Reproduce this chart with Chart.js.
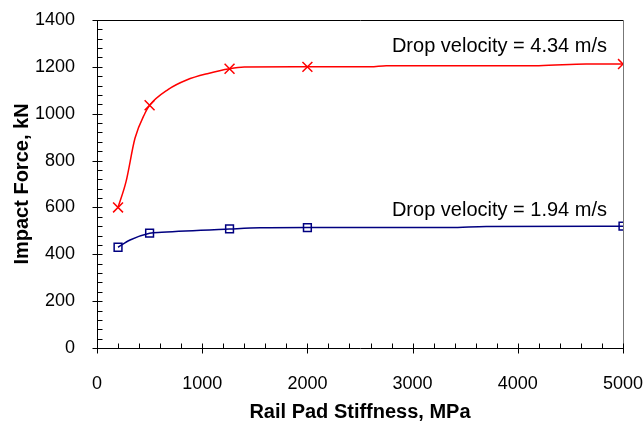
<!DOCTYPE html>
<html>
<head>
<meta charset="utf-8">
<script src="https://cdn.jsdelivr.net/npm/chart.js@4"></script>
<style>
  html, body { margin: 0; padding: 0; background: #fff; }
  #wrap { width: 644px; height: 421px; }
</style>
</head>
<body>
<div id="wrap"><canvas id="myChart" width="644" height="421"></canvas></div>
<script>
// marked points (MPa, kN)
const stiffnessMarks = [200, 500, 1260, 2000, 5000];
const force434Marks = [600, 1036, 1192, 1200, 1212];
const force194Marks = [430, 490, 508, 514, 520];

// the curves through them
const stiffness434Line = [200, 276, 361, 456, 500, 678, 852, 1058, 1260, 1400, 2000, 2600, 2750, 4200, 4650, 5000];
const force434Line = [600, 710, 895, 1002, 1036, 1104, 1144, 1172, 1192, 1199, 1200, 1200, 1205, 1205, 1212, 1212];
const stiffness194Line = [200, 314, 500, 615, 1260, 1550, 2000, 3355, 3700, 5000];
const force194Line = [430, 461, 490, 494, 508, 513, 514, 514, 519, 520];

const xTickValues = [0, 1000, 2000, 3000, 4000, 5000];
const yTickValues = [0, 200, 400, 600, 800, 1000, 1200, 1400];
const xMinorStep = 200;
const yMinorStep = 40;

const labels = [
    {text: 'Drop velocity = 4.34 m/s', x: 4848, y: 1285},
    {text: 'Drop velocity = 1.94 m/s', x: 4848, y: 588}
];

const fontName = '"Liberation Sans", Arial, sans-serif';

function toPoints(xs, ys){
    return xs.map((x, i) => ({x: x, y: ys[i]}));
}

const frameTicks = {
    id: 'frameTicks',
    afterDraw(chart){
        const ctx = chart.ctx;
        const a = chart.chartArea;
        const xs = chart.scales.x;
        const ys = chart.scales.y;
        const L = Math.round(a.left) + 0.5, R = Math.round(a.right) + 0.5;
        const T = Math.round(a.top) + 0.5, B = Math.round(a.bottom) + 0.5;
        ctx.save();
        ctx.lineWidth = 1;
        // top + right
        ctx.strokeStyle = '#000';
        ctx.beginPath();
        ctx.moveTo(L, T); ctx.lineTo(R, T);
        ctx.stroke();
        ctx.strokeStyle = '#777';
        ctx.beginPath();
        ctx.moveTo(R, T); ctx.lineTo(R, B);
        ctx.stroke();
        // axes + ticks
        ctx.strokeStyle = '#000';
        ctx.beginPath();
        ctx.moveTo(L, T); ctx.lineTo(L, B); ctx.lineTo(R, B);
        for (let v = xs.min; v <= xs.max; v += xMinorStep) {
            const px = Math.round(xs.getPixelForValue(v)) + 0.5;
            const major = xTickValues.includes(v);
            ctx.moveTo(px, B - 5);
            ctx.lineTo(px, major ? B + 5 : B);
        }
        for (let v = ys.min; v <= ys.max; v += yMinorStep) {
            const py = Math.round(ys.getPixelForValue(v)) + 0.5;
            const major = yTickValues.includes(v);
            ctx.moveTo(major ? L - 5 : L, py);
            ctx.lineTo(L + 5, py);
        }
        ctx.stroke();
        // text labels
        ctx.fillStyle = '#000';
        ctx.font = '20px ' + fontName;
        ctx.textAlign = 'right';
        ctx.textBaseline = 'middle';
        labels.forEach(l => {
            ctx.fillText(l.text, xs.getPixelForValue(l.x), ys.getPixelForValue(l.y));
        });
        ctx.restore();
    }
};

const ctx = document.getElementById('myChart').getContext('2d');
const myChart = new Chart(ctx, {
    type: 'line',
    data: {
        datasets: [{
            data: toPoints(stiffness434Line, force434Line),
            borderColor: '#ff0000',
            borderWidth: 1.5,
            pointRadius: 0,
            cubicInterpolationMode: 'monotone',
            fill: false
        },{
            data: toPoints(stiffness194Line, force194Line),
            borderColor: '#000080',
            borderWidth: 1.5,
            pointRadius: 0,
            cubicInterpolationMode: 'monotone',
            fill: false
        },{
            data: toPoints(stiffnessMarks, force434Marks),
            showLine: false,
            pointStyle: 'crossRot',
            pointRadius: 7,
            pointBorderWidth: 1.5,
            pointBorderColor: '#ff0000',
            pointBackgroundColor: '#ff0000'
        },{
            data: toPoints(stiffnessMarks, force194Marks),
            showLine: false,
            pointStyle: 'rect',
            pointRadius: 5.5,
            pointBorderWidth: 1.5,
            pointBorderColor: '#000080',
            pointBackgroundColor: 'rgba(0,0,0,0)'
        }]
    },
    options: {
        responsive: false,
        animation: false,
        events: [],
        layout: {padding: {left: 0, right: 21, top: 20, bottom: 0}},
        plugins: {legend: {display: false}, tooltip: {enabled: false}},
        scales: {
            x: {
                type: 'linear',
                min: 0,
                max: 5000,
                afterBuildTicks: s => { s.ticks = xTickValues.map(v => ({value: v})); },
                afterFit: s => { s.height = 73; s.paddingLeft = 0; s.paddingRight = 0; },
                grid: {display: false},
                border: {display: false},
                ticks: {color: '#000', padding: 17, maxRotation: 0, font: {family: fontName, size: 18},
                    callback: v => String(v)},
                title: {
                    display: true,
                    text: 'Rail Pad Stiffness, MPa',
                    color: '#000',
                    padding: 0,
                    font: {family: fontName, size: 20, weight: 'bold', lineHeight: 0.85}
                }
            },
            y: {
                min: 0,
                max: 1400,
                afterBuildTicks: s => { s.ticks = yTickValues.map(v => ({value: v})); },
                afterFit: s => { s.width = 97; s.paddingTop = 0; s.paddingBottom = 0; },
                grid: {display: false},
                border: {display: false},
                ticks: {color: '#000', padding: 14, font: {family: fontName, size: 18},
                    callback: v => String(v)},
                title: {
                    display: true,
                    text: 'Impact Force, kN',
                    color: '#000',
                    padding: {top: 10, bottom: 0},
                    font: {family: fontName, size: 20, weight: 'bold'}
                }
            }
        }
    },
    plugins: [frameTicks]
});
</script>
</body>
</html>
